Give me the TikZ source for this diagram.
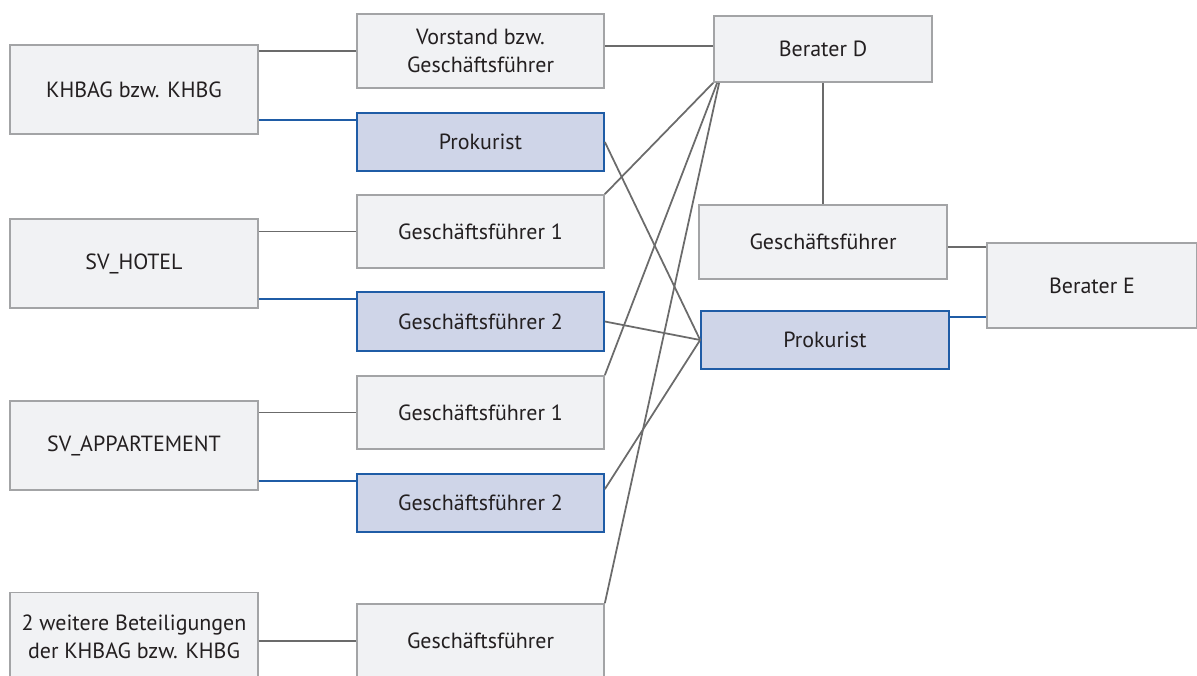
\documentclass[tikz,border=0pt]{standalone}
\usepackage{fontspec}
\setmainfont{PT Sans}
\usepackage{tikz}
\usetikzlibrary{positioning}
\usepackage{xcolor}

\definecolor{boxgray}{HTML}{F1F2F4}
\definecolor{framegray}{HTML}{A3A4A6}
\definecolor{boxblue}{HTML}{CFD5E8}
\definecolor{frameblue}{HTML}{1F5CA6}
\definecolor{linegray}{HTML}{6B6B6B}
\definecolor{txtdark}{HTML}{231F20}

\begin{document}
\begin{tikzpicture}[x=0.02cm, y=-0.02cm,
    every node/.style={font=\fontsize{12.5}{16}\selectfont, text=txtdark, align=center},
    org/.style={draw=framegray, fill=boxgray, line width=1pt},
    orgblue/.style={draw=frameblue, fill=boxblue, line width=1pt},
    link/.style={draw=linegray, line width=1pt},
    bluelink/.style={draw=frameblue, line width=1pt}]

  \useasboundingbox (0,0) rectangle (1197,676);

  % companies on the left
  \node[org, minimum width=4.96cm, minimum height=1.78cm]
    (khbag) at (134,89.5) {KHBAG bzw. KHBG};
  \node[org, minimum width=4.96cm, minimum height=1.78cm]
    (hotel) at (134,263.5) {SV\_HOTEL};
  \node[org, minimum width=4.96cm, minimum height=1.78cm]
    (app) at (134,445.5) {SV\_APPARTEMENT};
  \node[org, minimum width=4.96cm, minimum height=1.78cm]
    (weitere) at (134,637) {2 weitere Beteiligungen\\der KHBAG bzw. KHBG};

  % officers in the middle
  \node[org, minimum width=4.94cm, minimum height=1.48cm]
    (vorstand) at (480.5,51) {Vorstand bzw.\\Geschäftsführer};
  \node[orgblue, minimum width=4.94cm, minimum height=1.16cm]
    (prok1) at (480.5,142) {Prokurist};
  \node[org, minimum width=4.94cm, minimum height=1.46cm]
    (gf1a) at (480.5,231.5) {Geschäftsführer 1};
  \node[orgblue, minimum width=4.94cm, minimum height=1.18cm]
    (gf2a) at (480.5,321.5) {Geschäftsführer 2};
  \node[org, minimum width=4.94cm, minimum height=1.46cm]
    (gf1b) at (480.5,412.5) {Geschäftsführer 1};
  \node[orgblue, minimum width=4.94cm, minimum height=1.16cm]
    (gf2b) at (480.5,503) {Geschäftsführer 2};
  \node[org, minimum width=4.94cm, minimum height=1.48cm]
    (gfw) at (480.5,641) {Geschäftsführer};

  % advisers on the right
  \node[org, minimum width=4.36cm, minimum height=1.32cm]
    (berD) at (823,49) {Berater D};
  \node[org, minimum width=4.96cm, minimum height=1.48cm]
    (gfR) at (823,242) {Geschäftsführer};
  \node[orgblue, minimum width=4.96cm, minimum height=1.16cm]
    (prokR) at (825,340) {Prokurist};
  \node[org, minimum width=4.2cm, minimum height=1.7cm]
    (berE) at (1092,285.5) {Berater E};

  % docking points
  \coordinate (p1in) at ([yshift=-0.16cm]prok1.north west);
  \coordinate (g2ain) at ([yshift=-0.16cm]gf2a.north west);
  \coordinate (g2bin) at ([yshift=-0.16cm]gf2b.north west);
  \coordinate (g2bout) at ([yshift=-0.32cm]gf2b.north east);
  \coordinate (eTop) at ([yshift=-0.1cm]berE.north west);
  \coordinate (pRout) at ([yshift=-0.14cm]prokR.north east);

  % left to middle
  \draw[link] (khbag.east |- vorstand.west) -- (vorstand.west);
  \draw[bluelink] (khbag.east |- p1in) -- (p1in);
  \draw[link] (hotel.east |- gf1a.west) -- (gf1a.west);
  \draw[bluelink] (hotel.east |- g2ain) -- (g2ain);
  \draw[link] (app.east |- gf1b.west) -- (gf1b.west);
  \draw[bluelink] (app.east |- g2bin) -- (g2bin);
  \draw[link] (weitere.east |- gfw.west) -- (gfw.west);

  % middle to right
  \draw[link] ([yshift=0.1cm]vorstand.east) -- ([yshift=0.1cm]vorstand.east -| berD.west);
  \draw[link] (gf1a.north east) -- (berD.south west);
  \draw[link] (gf1b.north east) -- ([xshift=0.08cm]berD.south west);
  \draw[link] (gfw.north east) -- ([xshift=0.12cm]berD.south west);
  \draw[link] (prok1.east) -- (prokR.west);
  \draw[link] (gf2a.east) -- (prokR.west);
  \draw[link] (g2bout) -- (prokR.west);

  % advisers
  \draw[link] (berD.south) -- (gfR.north);
  \draw[link] (gfR.east |- eTop) -- (eTop);
  \draw[bluelink] (pRout) -- (pRout -| berE.west);

\end{tikzpicture}
\end{document}
